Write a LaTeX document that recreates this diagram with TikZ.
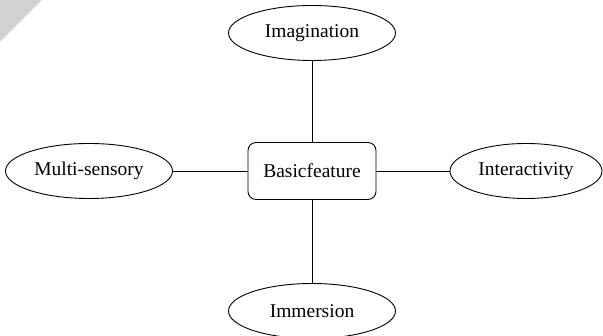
\documentclass[tikz,border=0pt]{standalone}
\usepackage{fontspec}
\setmainfont{Liberation Serif}
\usetikzlibrary{shapes.geometric}
\begin{document}
\begin{tikzpicture}[x=1pt,y=1pt,
  feature/.style={draw,ellipse,line width=0.9pt,minimum width=167pt,minimum height=55pt,inner sep=0pt,font=\fontsize{19.5}{22}\selectfont},
  core/.style={draw,rectangle,rounded corners=8pt,line width=0.9pt,minimum width=128pt,minimum height=57pt,inner sep=0pt,font=\fontsize{19.5}{22}\selectfont},
  link/.style={line width=0.9pt}]
\useasboundingbox (0,0) rectangle (603,336);
% folded page corner
\fill[gray!35] (0,336) -- (42,336) -- (0,294) -- cycle;
\node[core] (basic) at (312,165) {Basicfeature};
\node[feature] (imag) at (312,303) {Imagination};
\node[feature] (imm) at (312,25) {Immersion};
\node[feature] (multi) at (89,165) {Multi-sensory};
\node[feature,minimum width=152pt] (inter) at (526,165) {Interactivity};
\draw[link] (imag) -- (basic);
\draw[link] (basic) -- (imm);
\draw[link] (multi) -- (basic);
\draw[link] (basic) -- (inter);
\end{tikzpicture}
\end{document}
